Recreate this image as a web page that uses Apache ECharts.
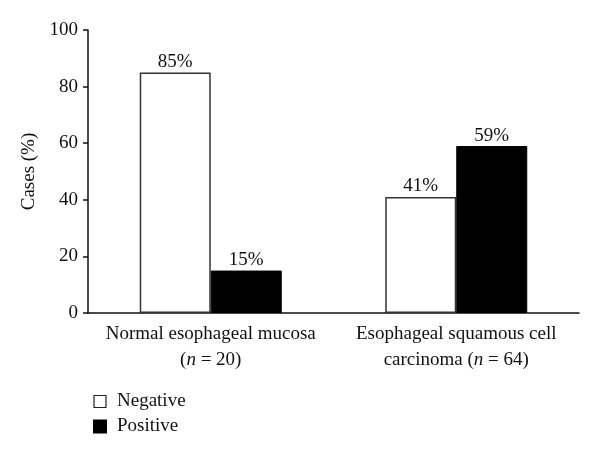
<!DOCTYPE html>
<html><head><meta charset="utf-8">
<script src="https://cdn.jsdelivr.net/npm/echarts@6/dist/echarts.min.js"></script>
<style>html,body{margin:0;padding:0;background:#fff}#c{width:600px;height:455px}</style>
</head><body><div id="c"></div>
<script>
var categories = ['{a|Normal esophageal mucosa}\n{a|(}{i|n}{a| = 20)}', '{a|Esophageal squamous cell}\n{a|carcinoma (}{i|n}{a| = 64)}'];
var negative = [85, 41];
var positive = [15, 59];
var yTicks = [0, 20, 40, 60, 80, 100];
var FONT = 'Liberation Serif';
var FS = 19;
var chart = echarts.init(document.getElementById('c'));
chart.setOption({
  animation: false,
  textStyle: {fontFamily: FONT},
  grid: {left: 88, right: 21, top: 30, bottom: 142, containLabel: false},
  legend: {
    orient: 'vertical', left: 88, top: 387, itemWidth: 12, itemHeight: 12, itemGap: 6,
    textStyle: {fontFamily: FONT, fontSize: FS, color: '#111', padding: [0, 0, 0, 6]},
    data: [{name: 'Negative', icon: 'rect', itemStyle: {color: '#fff', borderColor: '#222', borderWidth: 1.2}},
           {name: 'Positive', icon: 'rect', itemStyle: {color: '#000'}}]
  },
  xAxis: {
    type: 'category', data: categories,
    axisLine: {lineStyle: {color: '#111', width: 1.5}},
    axisTick: {inside: true, length: 5, lineStyle: {color: '#111', width: 1.5}},
    axisLabel: {margin: 8, rich: {
      a: {fontFamily: FONT, fontSize: FS, color: '#111', lineHeight: 26},
      i: {fontFamily: FONT, fontSize: FS, color: '#111', fontStyle: 'italic', lineHeight: 26}
    }}
  },
  yAxis: {
    type: 'value', min: 0, max: 100, interval: 20,
    name: 'Cases (%)', nameLocation: 'middle', nameGap: 47, nameRotate: 90,
    nameTextStyle: {fontFamily: FONT, fontSize: FS, color: '#111'},
    axisLine: {show: true, lineStyle: {color: '#111', width: 1.5}},
    axisTick: {show: true, length: 5, lineStyle: {color: '#111', width: 1.5}},
    splitLine: {show: false},
    axisLabel: {fontFamily: FONT, fontSize: FS, color: '#111', margin: 10,
      formatter: function(v){ return yTicks.indexOf(v) >= 0 ? String(v) : ''; }}
  },
  series: [
    {name: 'Negative', type: 'bar', data: negative, barWidth: 71, barGap: '0%',
     itemStyle: {color: '#fff', borderColor: '#333', borderWidth: 1.5},
     label: {show: true, position: 'top', distance: 1, formatter: '{c}%', fontFamily: FONT, fontSize: FS, color: '#111'}},
    {name: 'Positive', type: 'bar', data: positive, barWidth: 71,
     itemStyle: {color: '#000', borderColor: '#000', borderWidth: 1},
     label: {show: true, position: 'top', distance: 1, formatter: '{c}%', fontFamily: FONT, fontSize: FS, color: '#111'}}
  ]
});
</script></body></html>
